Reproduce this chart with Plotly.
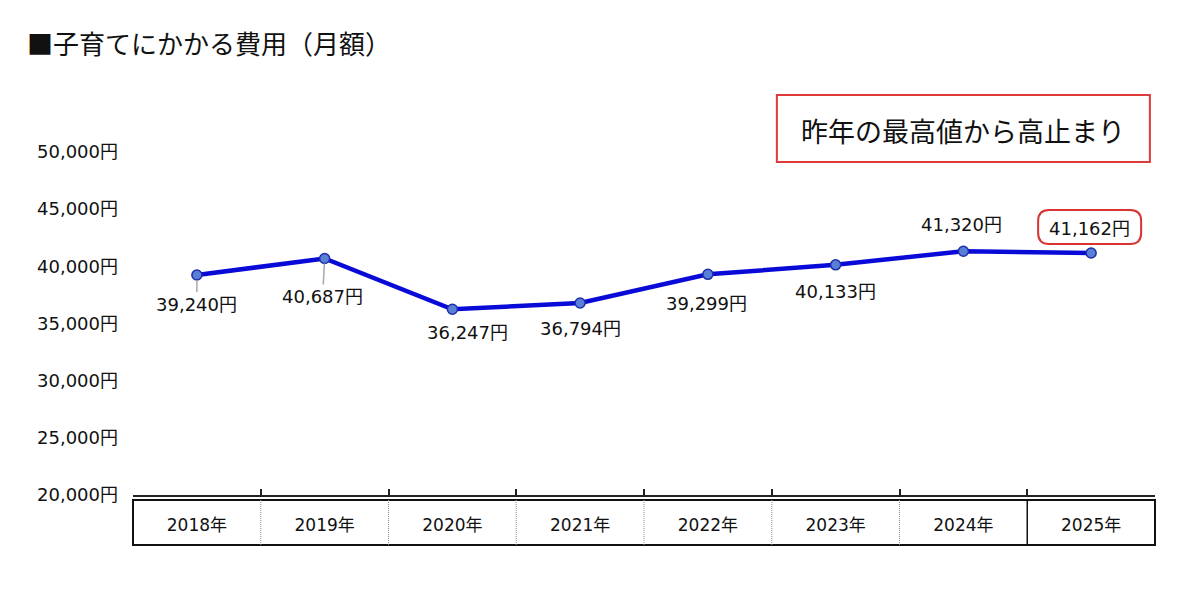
import plotly.graph_objects as go

years = ["2018年", "2019年", "2020年", "2021年", "2022年", "2023年", "2024年", "2025年"]
costs = [39240, 40687, 36247, 36794, 39299, 40133, 41320, 41162]
title_text = "■子育てにかかる費用（月額）"
callout_text = "昨年の最高値から高止まり"
y_ticks = [20000, 25000, 30000, 35000, 40000, 45000, 50000]
y_tick_text = [f"{v:,}円" for v in y_ticks]

FONT = "DejaVu Sans, Verdana, Noto Sans CJK JP, sans-serif"
CJK = "Noto Sans CJK JP, sans-serif"

fig = go.Figure()
fig.add_trace(go.Scatter(
    x=years, y=costs, mode="lines+markers",
    line=dict(color="#0a0ad8", width=4.5),
    marker=dict(size=10, color="#5a7fd6", line=dict(color="#1c2fa8", width=1.5)),
    hoverinfo="skip", showlegend=False, cliponaxis=False,
))

# label placement (pixel offsets): (ax, ay, leader)
label_pos = [
    (0, 29, True), (-2, 38, True), (15, 23, False), (0, 26, False),
    (-1, 29, True), (0, 27, False), (-2, -27, False), (-2, -25, False),
]
annos = []
for yr, v, (dx, dy, leader) in zip(years, costs, label_pos):
    txt = f"{v:,}円"
    if leader:
        annos.append(dict(x=yr, y=v, xref="x", yref="y", text=txt, showarrow=True,
                          ax=dx, ay=dy, arrowhead=0, arrowwidth=1.5, arrowcolor="#a8a8a8",
                          standoff=5, font=dict(family=FONT, size=18, color="#111")))
    else:
        annos.append(dict(x=yr, y=v, xref="x", yref="y", text=txt, showarrow=False,
                          xshift=dx, yshift=-dy, font=dict(family=FONT, size=18, color="#111")))

# callout text
annos.append(dict(x=0.812, y=1.064, xref="paper", yref="paper", text=callout_text,
                  xanchor="center", yanchor="middle",
                  showarrow=False, font=dict(family=CJK, size=27, color="#111")))

shapes = []
# callout box
shapes.append(dict(type="rect", xref="paper", yref="paper", x0=0.630, x1=0.995,
                   y0=0.971, y1=1.166, line=dict(color="#e03a3a", width=2),
                   fillcolor="rgba(0,0,0,0)"))
# rounded box around last value (pixel path relative to last point)
r = 11
x0, x1, yb, yt = -53, 50, 9, 43
path = (f"M{x0+r},{yb} L{x1-r},{yb} Q{x1},{yb} {x1},{yb+r} L{x1},{yt-r} "
        f"Q{x1},{yt} {x1-r},{yt} L{x0+r},{yt} Q{x0},{yt} {x0},{yt-r} "
        f"L{x0},{yb+r} Q{x0},{yb} {x0+r},{yb} Z")
shapes.append(dict(type="path", xref="x", yref="y", xsizemode="pixel", ysizemode="pixel",
                   xanchor=years[-1], yanchor=costs[-1], path=path,
                   line=dict(color="#d83232", width=2), fillcolor="rgba(0,0,0,0)"))
# table under axis
tb_top, tb_bot = -5 / 343, -50 / 343
shapes.append(dict(type="rect", xref="paper", yref="paper", x0=0, x1=1,
                   y0=tb_bot, y1=tb_top, line=dict(color="#111", width=2)))
for i in range(1, len(years)):
    solid = (i == len(years) - 1)
    shapes.append(dict(type="line", xref="x", yref="paper", x0=i - 0.5, x1=i - 0.5,
                       y0=tb_bot, y1=tb_top,
                       line=dict(color="#111" if solid else "#888", width=1.5 if solid else 1,
                                 dash="solid" if solid else "1px,1px")))

fig.update_layout(
    width=1200, height=591,
    margin=dict(l=133, r=45, t=152, b=96),
    paper_bgcolor="white", plot_bgcolor="white",
    title=dict(text=title_text, xref="container", yref="container", x=27 / 1200,
               xanchor="left", y=1 - 45 / 591, yanchor="middle",
               font=dict(family=CJK, size=26, color="#111")),
    xaxis=dict(type="category", range=[-0.5, 7.5], showgrid=False, showline=True,
               linecolor="#222", linewidth=1.5, ticks="inside", ticklen=6,
               tickcolor="#222", tickwidth=1.5, tickson="boundaries",
               ticklabelstandoff=14,
               tickfont=dict(family=FONT, size=17, color="#111"), zeroline=False),
    yaxis=dict(range=[20000, 50000], tickvals=y_ticks, ticktext=y_tick_text,
               showgrid=False, showline=False, zeroline=False, ticks="",
               ticklabelstandoff=14,
               tickfont=dict(family=FONT, size=18, color="#111")),
    annotations=annos, shapes=shapes,
)

fig.write_html("out.html")
